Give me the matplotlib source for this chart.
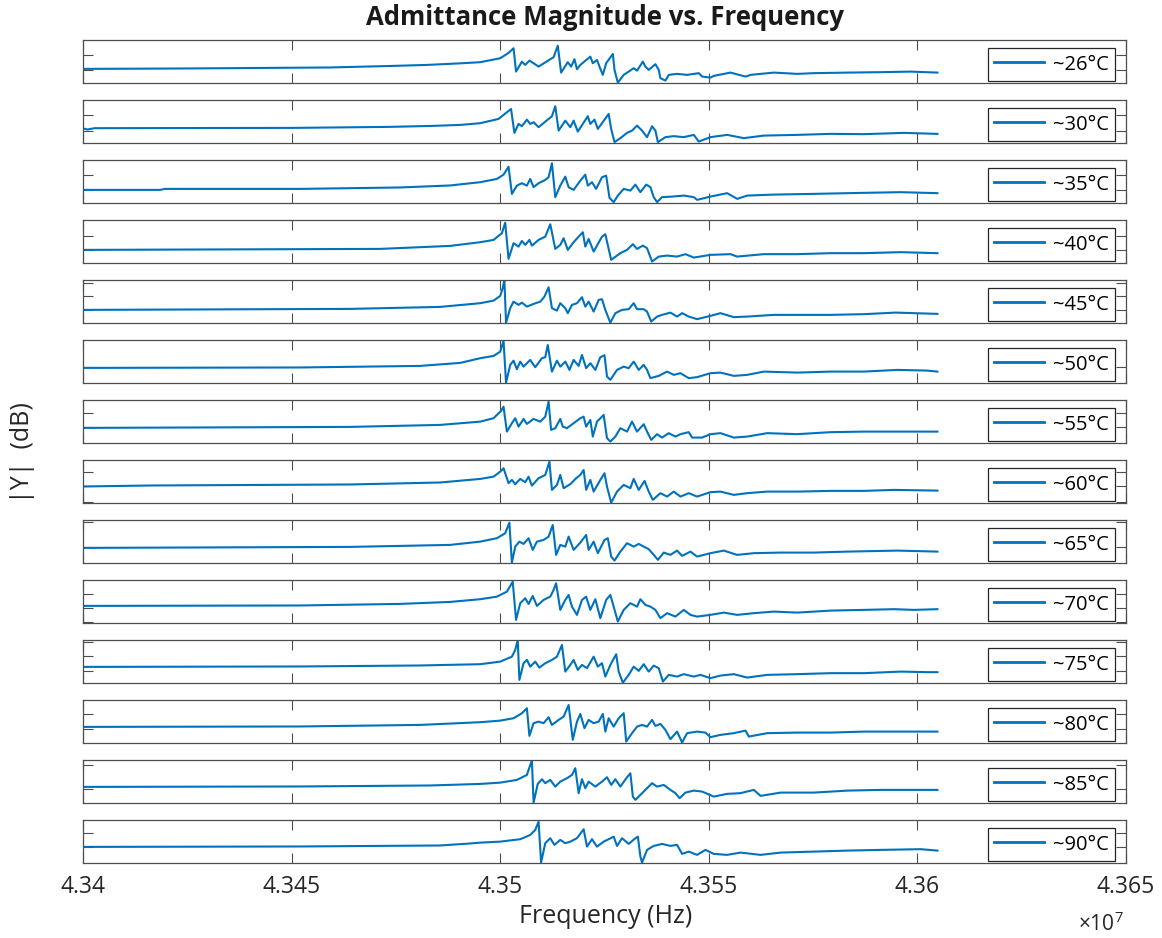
import matplotlib
matplotlib.use("Agg")
import matplotlib.pyplot as plt

plt.rcParams['font.family'] = ['Open Sans', 'DejaVu Sans']
plt.rcParams['mathtext.fontset'] = 'custom'
plt.rcParams['mathtext.rm'] = 'Open Sans'

# frequency offsets in kHz from 43.5 MHz, |Y| in dB
f_26 = [-100, -75, -40.8, -25.7, -17.5, -10.3, -4.8, 0, 1.9, 3.2, 3.8, 5.2, 6.0, 7.0, 8.0, 9.2, 12.0, 12.8, 13.8, 14.6, 16.2, 17.0, 17.8, 18.4, 19.2, 21.6, 22.2, 23.2, 23.8, 24.6, 25.4, 27.0, 27.4, 28.2, 29.6, 30.8, 32.0, 32.8, 34.2, 34.8, 35.6, 37.2, 38.0, 38.4, 39.6, 40.4, 42.4, 44.8, 47.6, 48.4, 50.4, 51.2, 55.2, 58.8, 60.0, 65.6, 71.2, 75.2, 83.2, 91.2, 98.4, 104.8]
db_26 = [-40.3, -40.0, -39.3, -38.2, -37.5, -36.5, -35.6, -32.8, -29.3, -25.8, -42.2, -35.2, -37.5, -34.5, -36.3, -38.7, -33.5, -32.1, -24.0, -42.9, -35.6, -38.7, -33.5, -40.5, -37.5, -31.7, -36.3, -34.0, -38.7, -44.5, -36.3, -29.8, -41.0, -50.0, -44.5, -42.2, -39.8, -41.5, -35.2, -38.7, -41.0, -37.0, -41.0, -46.8, -48.5, -44.5, -43.8, -44.5, -43.3, -45.7, -46.4, -45.2, -42.9, -45.7, -44.5, -42.9, -43.8, -43.3, -42.9, -42.6, -42.2, -42.9]

f_30 = [-100, -98.9, -97.2, -49.9, -26.9, -16.3, -9.6, -4.8, -0.4, 1.6, 2.6, 3.4, 4.4, 5.2, 6.4, 7.2, 8.0, 9.2, 11.6, 12.4, 13.2, 14.0, 15.6, 16.8, 17.6, 18.6, 21.0, 21.6, 22.6, 23.4, 26.0, 26.6, 27.4, 28.8, 30.4, 31.6, 32.8, 34.0, 35.2, 36.4, 37.2, 37.8, 39.6, 41.6, 44.0, 46.4, 47.6, 50.4, 54.4, 58.4, 63.2, 71.2, 79.2, 87.2, 96.8, 104.8]
db_30 = [-40.0, -40.7, -39.8, -39.6, -38.9, -38.2, -37.5, -36.3, -33.3, -28.6, -26.3, -43.1, -36.8, -38.4, -33.8, -36.8, -35.6, -39.1, -33.3, -31.4, -24.4, -41.5, -34.5, -39.1, -34.5, -42.2, -31.4, -36.8, -33.8, -40.3, -29.8, -40.3, -49.6, -46.8, -43.1, -41.5, -38.0, -41.5, -46.1, -38.4, -41.5, -49.6, -46.1, -45.4, -46.1, -44.5, -49.2, -46.1, -44.5, -46.8, -45.0, -44.5, -43.8, -44.0, -43.1, -43.8]

f_35 = [-100, -81.5, -80.4, -48, -24, -12, -4.8, -0.8, 0.8, 2.0, 2.8, 4.0, 5.2, 6.4, 7.2, 8.0, 9.2, 10.8, 11.6, 12.4, 13.2, 14.4, 15.6, 16.4, 17.6, 19.2, 20.4, 21.0, 22.0, 23.0, 24.4, 25.4, 26.2, 27.2, 28.2, 29.6, 31.2, 32.4, 33.6, 35.0, 36.0, 36.8, 37.6, 38.8, 41.2, 44.0, 46.4, 47.2, 50.4, 54.4, 56.8, 59.2, 65.6, 75.2, 83.2, 96.0, 104.8]
db_35 = [-41.0, -41.0, -40.3, -40.3, -39.3, -37.9, -35.6, -33.3, -30.3, -24.7, -43.8, -38.0, -36.3, -38.0, -33.3, -39.1, -36.3, -34.0, -32.1, -22.3, -46.1, -38.0, -31.7, -39.1, -41.0, -34.5, -30.3, -38.0, -35.6, -40.3, -32.1, -31.0, -46.6, -49.6, -45.0, -40.3, -41.5, -37.3, -42.6, -37.3, -39.1, -46.1, -49.6, -46.1, -45.7, -45.0, -46.1, -48.0, -45.7, -43.3, -47.3, -45.0, -44.3, -43.8, -43.3, -42.6, -43.3]

f_40 = [-100, -28.8, -12, -4.8, -1.6, 0.4, 1.2, 2.0, 3.2, 4.4, 5.2, 6.0, 7.0, 7.6, 9.2, 10.8, 12.0, 13.2, 14.4, 15.2, 16.2, 17.6, 18.8, 19.8, 20.4, 21.2, 22.4, 24.4, 25.2, 26.6, 28.8, 30.4, 31.8, 32.8, 34.2, 35.2, 36.4, 38.0, 40.0, 42.4, 44.4, 46.4, 50.4, 55.2, 56.8, 63.2, 71.2, 79.2, 87.2, 96.0, 104.8]
db_40 = [-41.0, -40.3, -38.2, -35.6, -34.0, -29.3, -21.9, -47.3, -36.3, -38.7, -34.7, -37.5, -34.0, -38.0, -34.0, -31.7, -23.0, -40.3, -37.5, -32.8, -41.0, -35.6, -31.7, -28.6, -38.7, -33.3, -42.2, -31.7, -30.0, -48.0, -43.3, -41.0, -37.0, -40.3, -38.0, -39.8, -49.2, -45.7, -45.0, -45.7, -44.0, -46.4, -44.5, -44.0, -45.7, -44.0, -44.0, -43.3, -43.3, -42.6, -43.3]

f_45 = [-100, -36, -14.4, -4.8, -1.6, 0, 0.6, 1.0, 1.4, 2.4, 3.2, 4.4, 5.2, 6.4, 8.0, 9.6, 10.6, 11.6, 12.4, 13.6, 14.4, 15.6, 16.2, 17.2, 18.4, 19.6, 20.4, 21.2, 22.4, 23.6, 24.4, 25.2, 26.4, 27.6, 29.2, 30.8, 32.0, 32.8, 34.4, 35.2, 36.2, 37.6, 38.8, 40.8, 42.4, 43.6, 45.2, 47.2, 50.4, 52.8, 56.0, 59.2, 65.6, 71.2, 79.2, 87.2, 94.8, 104.8]
db_45 = [-41.0, -40.3, -38.9, -36.3, -34.5, -31.2, -25.8, -20.0, -50.0, -39.8, -35.2, -37.5, -35.9, -38.7, -36.8, -35.2, -31.7, -25.1, -39.8, -41.5, -36.3, -39.8, -43.3, -37.5, -36.3, -32.1, -38.7, -35.2, -42.2, -34.0, -33.5, -41.0, -50.0, -43.3, -41.0, -40.5, -36.3, -40.5, -40.5, -42.2, -49.2, -45.7, -44.5, -42.9, -45.7, -43.3, -45.7, -47.5, -45.2, -43.3, -46.1, -45.7, -44.5, -44.5, -44.5, -44.0, -42.9, -43.8]

f_50 = [-100, -48, -19.2, -9.6, -4.8, -1.6, 0, 0.8, 1.4, 2.4, 3.2, 4.0, 4.8, 5.6, 7.2, 8.4, 10.0, 10.8, 11.4, 12.4, 13.6, 14.4, 15.6, 16.6, 17.6, 18.8, 19.6, 20.6, 21.6, 22.8, 24.0, 25.0, 25.6, 26.4, 28.0, 29.6, 30.8, 32.0, 33.2, 34.4, 35.2, 36.0, 38.0, 40.0, 41.6, 43.2, 45.2, 47.2, 50.4, 52.8, 56.0, 59.2, 63.2, 71.2, 79.2, 87.2, 95.2, 102.4, 104.8]
db_50 = [-39.6, -39.3, -38.2, -36.1, -32.8, -31.2, -28.2, -20.5, -50.0, -37.5, -34.5, -40.5, -35.2, -38.7, -34.0, -39.1, -32.8, -32.1, -23.5, -42.2, -34.5, -38.7, -35.2, -41.0, -34.0, -38.2, -30.5, -39.8, -36.3, -41.0, -32.1, -30.7, -45.7, -48.0, -41.0, -38.7, -39.8, -35.2, -41.0, -37.5, -41.0, -46.8, -45.2, -42.2, -44.5, -43.3, -46.8, -46.1, -43.3, -42.9, -45.2, -44.5, -42.2, -42.9, -42.2, -42.2, -41.0, -41.5, -42.2]

f_55 = [-100, -36, -14.4, -4.8, -1.6, 0.2, 0.8, 1.6, 2.8, 3.6, 4.4, 5.6, 6.4, 8.0, 9.6, 10.8, 11.6, 12.2, 13.2, 14.4, 15.0, 16.0, 17.6, 19.2, 20.0, 20.6, 21.6, 22.2, 23.2, 24.8, 25.6, 26.4, 27.6, 28.8, 30.4, 31.6, 32.8, 34.4, 35.2, 36.2, 37.6, 38.8, 40.4, 42.0, 43.2, 45.2, 46.0, 48.4, 50.4, 52.8, 56.0, 59.2, 64.0, 71.2, 79.2, 87.2, 96.0, 104.8]
db_55 = [-39.6, -38.9, -37.5, -35.2, -32.8, -27.7, -24.7, -42.2, -36.3, -32.8, -38.7, -33.3, -36.8, -33.3, -35.2, -31.7, -21.2, -41.0, -39.8, -33.3, -38.7, -39.8, -36.3, -32.8, -31.7, -38.7, -34.0, -45.7, -35.2, -30.5, -46.8, -49.2, -45.7, -39.8, -42.2, -35.2, -42.2, -37.0, -42.2, -48.0, -44.0, -46.4, -43.3, -45.7, -44.0, -42.6, -46.4, -46.4, -44.0, -43.3, -46.4, -45.7, -43.3, -44.0, -42.6, -42.2, -42.2, -42.2]

f_60 = [-100, -83.3, -36, -14.4, -4.8, -1.6, 0, 0.8, 2.0, 2.8, 3.6, 4.8, 6.0, 6.8, 7.6, 9.2, 10.8, 11.8, 12.4, 13.6, 14.4, 15.2, 16.8, 18.2, 19.2, 20.0, 20.6, 21.6, 22.4, 24.0, 25.0, 25.6, 26.6, 28.0, 29.6, 31.2, 32.0, 33.2, 34.6, 35.6, 36.6, 38.4, 40.0, 41.6, 43.2, 45.2, 47.2, 50.4, 52.8, 56.0, 59.2, 64.0, 71.2, 79.2, 87.2, 94.4, 104.8]
db_60 = [-38.6, -37.9, -37.2, -35.8, -33.3, -31.7, -28.2, -25.8, -36.3, -34.0, -37.0, -33.3, -35.6, -31.7, -38.0, -32.8, -30.5, -21.2, -41.0, -37.5, -30.5, -39.8, -37.0, -32.8, -30.5, -27.0, -41.0, -34.0, -42.2, -34.0, -29.3, -38.7, -50.0, -42.2, -37.5, -39.8, -33.3, -41.0, -34.7, -42.2, -48.0, -43.3, -45.7, -42.2, -45.7, -43.3, -45.7, -42.6, -42.2, -44.5, -43.3, -42.2, -42.2, -41.7, -41.7, -41.0, -41.5]

f_65 = [-100, -36, -12, -4.8, -0.8, 1.2, 2.2, 2.8, 3.6, 4.6, 5.6, 6.8, 7.8, 8.8, 10.4, 11.6, 12.6, 13.4, 14.4, 15.6, 16.4, 17.6, 19.2, 20.6, 21.2, 22.4, 23.4, 25.0, 25.8, 26.6, 27.4, 28.8, 30.4, 32.0, 33.2, 34.4, 35.6, 36.8, 37.8, 39.2, 40.8, 42.4, 43.6, 45.6, 47.2, 50.4, 53.6, 56.8, 60.8, 67.2, 75.2, 83.2, 95.2, 104.8]
db_65 = [-39.6, -38.9, -37.5, -35.2, -32.8, -29.3, -21.9, -50.0, -38.7, -35.2, -36.8, -32.8, -41.0, -35.2, -34.0, -31.7, -23.5, -44.5, -37.5, -38.7, -31.7, -41.0, -35.9, -30.5, -41.0, -35.2, -43.3, -34.0, -32.8, -45.7, -48.5, -42.2, -36.3, -38.7, -36.8, -38.7, -40.5, -44.5, -48.0, -42.9, -44.5, -41.5, -45.2, -42.2, -45.7, -43.3, -41.5, -44.5, -43.3, -42.9, -42.9, -42.2, -41.5, -42.2]

f_70 = [-100, -48, -24, -12, -4.8, -0.8, 1.6, 3.0, 3.8, 4.8, 6.0, 6.8, 7.8, 8.8, 10.4, 12.0, 12.8, 13.4, 14.4, 15.6, 16.4, 17.2, 18.4, 19.6, 20.6, 21.6, 22.8, 24.0, 25.4, 26.4, 27.2, 28.2, 29.6, 31.2, 32.8, 33.6, 34.8, 36.0, 37.2, 38.4, 40.0, 42.0, 44.0, 45.6, 47.2, 50.4, 53.6, 56.8, 60.8, 65.6, 71.2, 79.2, 87.2, 94.4, 99.2, 104.8]
db_70 = [-38.2, -37.9, -36.8, -35.4, -33.5, -31.7, -28.2, -21.2, -48.0, -36.3, -32.8, -36.8, -31.2, -38.2, -34.0, -31.7, -27.0, -22.3, -41.0, -34.0, -30.5, -38.7, -44.5, -34.0, -31.7, -41.0, -33.5, -46.8, -34.0, -30.5, -38.7, -49.2, -41.0, -36.3, -38.7, -33.5, -37.5, -38.7, -41.0, -46.8, -43.3, -45.7, -41.0, -44.5, -45.7, -44.5, -42.9, -44.5, -43.3, -42.2, -42.9, -41.5, -41.0, -40.5, -41.0, -40.5]

f_75 = [-100, -48, -19.2, -4.8, 0, 2.8, 3.6, 4.2, 4.6, 5.6, 6.4, 7.2, 8.4, 9.4, 10.8, 12.4, 13.6, 14.8, 15.6, 16.8, 17.6, 18.6, 19.6, 20.8, 22.4, 23.4, 24.4, 25.2, 26.4, 27.8, 28.4, 29.4, 30.8, 32.0, 33.2, 34.4, 35.6, 36.8, 38.0, 39.0, 40.4, 42.4, 44.0, 46.4, 48.0, 50.4, 52.8, 56.0, 59.2, 64.0, 71.2, 79.2, 87.2, 96.0, 102.4, 104.8]
db_75 = [-38.9, -38.6, -37.9, -37.0, -35.2, -31.7, -27.0, -20.0, -48.0, -36.3, -34.0, -38.7, -35.2, -39.4, -36.3, -34.0, -31.7, -23.5, -42.2, -37.5, -34.0, -41.0, -37.5, -39.8, -31.7, -38.7, -36.3, -45.7, -37.5, -30.0, -42.2, -50.0, -44.5, -38.7, -41.7, -37.0, -42.2, -38.0, -39.8, -49.2, -44.5, -45.7, -44.0, -45.7, -44.5, -46.8, -45.0, -44.0, -46.4, -44.5, -44.0, -43.3, -43.3, -42.2, -42.6, -42.6]

f_80 = [-100, -48, -19.2, -4.8, 0, 3.2, 5.2, 6.4, 7.0, 8.0, 9.2, 10.4, 11.6, 12.4, 14.0, 15.2, 16.4, 17.4, 18.4, 19.2, 20.2, 21.2, 22.4, 23.6, 24.6, 25.2, 26.0, 27.2, 28.4, 29.6, 30.2, 31.6, 32.8, 34.0, 35.2, 36.4, 37.2, 38.4, 39.6, 40.8, 42.4, 43.6, 44.8, 47.2, 49.2, 50.4, 52.8, 56.0, 58.8, 59.6, 64.0, 71.2, 79.2, 87.2, 95.2, 104.8]
db_80 = [-38.9, -38.6, -37.5, -35.6, -34.5, -32.8, -29.3, -25.8, -45.2, -36.3, -35.2, -36.3, -32.1, -37.5, -34.0, -31.7, -23.5, -48.0, -35.2, -29.8, -39.8, -34.0, -36.3, -35.2, -29.8, -42.2, -32.8, -38.7, -32.8, -29.3, -49.2, -43.3, -38.7, -37.5, -38.7, -34.0, -38.2, -36.8, -41.0, -47.5, -42.2, -49.9, -43.3, -42.2, -42.9, -46.1, -44.5, -43.3, -41.5, -45.7, -43.3, -42.9, -42.9, -42.2, -42.2, -42.2]

f_85 = [-100, -48, -16.8, -4.8, 0, 4.0, 6.4, 7.2, 7.6, 8.0, 9.0, 10.0, 10.8, 12.0, 13.2, 14.4, 16.0, 17.2, 18.0, 18.8, 19.6, 20.4, 21.2, 22.8, 24.4, 25.6, 26.6, 27.6, 28.8, 30.4, 31.2, 31.8, 32.4, 33.6, 34.8, 36.4, 37.6, 39.2, 40.8, 42.0, 43.0, 44.4, 46.4, 48.4, 51.2, 54.4, 57.6, 60.8, 62.4, 67.2, 75.2, 83.2, 91.2, 104.8]
db_85 = [-38.9, -38.6, -37.9, -36.8, -35.9, -34.0, -30.5, -23.5, -20.5, -49.9, -36.8, -33.5, -36.3, -34.0, -38.7, -35.2, -32.8, -30.5, -25.8, -43.3, -33.5, -39.8, -35.2, -38.7, -35.2, -32.1, -37.5, -33.5, -38.7, -32.1, -29.3, -45.7, -48.0, -44.5, -41.0, -36.3, -38.7, -37.5, -41.0, -43.3, -46.8, -42.9, -41.5, -42.2, -45.7, -43.8, -43.3, -41.0, -45.2, -42.9, -42.9, -41.5, -41.0, -41.0]

f_90 = [-100, -48, -14.4, -7.2, -4.8, 0, 4.8, 7.2, 8.4, 9.2, 9.8, 10.8, 12.0, 13.0, 14.4, 15.6, 16.8, 18.4, 20.0, 20.8, 22.0, 23.2, 24.8, 26.0, 27.2, 28.0, 29.2, 30.8, 32.4, 33.0, 33.6, 34.0, 35.2, 36.8, 38.8, 40.8, 42.4, 43.6, 45.2, 47.2, 49.2, 51.2, 54.4, 57.6, 62.4, 67.2, 75.2, 83.2, 91.2, 100.8, 104.8]
db_90 = [-38.9, -38.6, -37.9, -36.5, -35.9, -35.2, -33.5, -30.5, -27.0, -21.2, -49.9, -36.3, -32.8, -37.5, -34.0, -36.3, -35.2, -32.8, -26.5, -38.7, -33.5, -38.7, -35.2, -33.5, -31.7, -38.2, -32.8, -36.8, -32.8, -31.7, -45.7, -49.9, -41.0, -38.2, -36.8, -38.2, -37.5, -43.8, -42.2, -44.5, -41.0, -43.8, -44.5, -42.9, -44.5, -42.9, -42.2, -41.5, -41.0, -40.5, -41.5]

temps = ['~26°C', '~30°C', '~35°C', '~40°C', '~45°C', '~50°C', '~55°C',
         '~60°C', '~65°C', '~70°C', '~75°C', '~80°C', '~85°C', '~90°C']
freqs = [f_26, f_30, f_35, f_40, f_45, f_50, f_55, f_60, f_65, f_70, f_75, f_80, f_85, f_90]
mags = [db_26, db_30, db_35, db_40, db_45, db_50, db_55, db_60, db_65, db_70, db_75, db_80, db_85, db_90]

# y ticks (dB) each subplot shows
yticks = [[-41, -30.5], [-41.5, -30.5], [-41, -30.5], [-41, -31], [-41.2, -31.2, -21.9],
          [-39.1], [-39.1, -29.1], [-49.4, -38.2, -28.2], [-39.1, -21.2],
          [-49.6, -39.8, -29.8], [-41.5, -31.4, -21.6], [-40.1, -30], [-40.3, -23.5],
          [-39.3, -28.8]]

xtick_labels = ['4.34', '4.345', '4.35', '4.355', '4.36', '4.365']

W, H = 1162, 938
fig = plt.figure(figsize=(W / 100, H / 100), dpi=100)

left, right = 83, 1126
panel_h = 42.7
axes = []
for i in range(len(temps)):
    top = 40 + 60 * i
    ax = fig.add_axes([left / W, 1 - (top + panel_h) / H, (right - left) / W, panel_h / H])
    hz = [43.5e6 + k * 1e3 for k in freqs[i]]
    ax.plot(hz, mags[i], color='#0072BD', lw=1.5, label=temps[i])
    ax.set_xlim(4.34e7, 4.365e7)
    ax.set_ylim(-50, -20)
    ax.set_yticks(yticks[i])
    ax.set_yticklabels([])
    ax.set_xticks([float(t) * 1e7 for t in xtick_labels])
    if i == len(temps) - 1:
        ax.set_xticklabels(xtick_labels)
    else:
        ax.set_xticklabels([])
    ax.tick_params(direction='in', top=True, right=True, length=7, width=0.8,
                   color='0.3', labelsize=16.5, labelcolor='0.15', pad=9)
    for s in ax.spines.values():
        s.set_color('0.3')
        s.set_linewidth(0.9)
    leg = ax.legend(loc='center right', bbox_to_anchor=(0.9895, 0.426), borderaxespad=0,
                    fontsize=14.5, handlelength=2.5, handletextpad=0.45, borderpad=0.3,
                    fancybox=False, framealpha=1, edgecolor='0.15')
    leg.get_frame().set_linewidth(0.9)
    for h in leg.get_lines():
        h.set_linewidth(2)
    axes.append(ax)

fig.text(0.521, 0.981, 'Admittance Magnitude vs. Frequency', ha='center', va='center',
         fontsize=18.5, fontweight='bold', color='0.1')
fig.text(0.521, 0.0224, 'Frequency (Hz)', ha='center', va='center', fontsize=18, color='0.15')
fig.text(0.019, 0.518, '|Y|  (dB)', ha='center', va='center', rotation=90, fontsize=18, color='0.15')
fig.text(0.947, 0.015, r'$\times10^{7}$', ha='center', va='center', fontsize=15, color='0.15')

fig.savefig('out.png', dpi=100)
